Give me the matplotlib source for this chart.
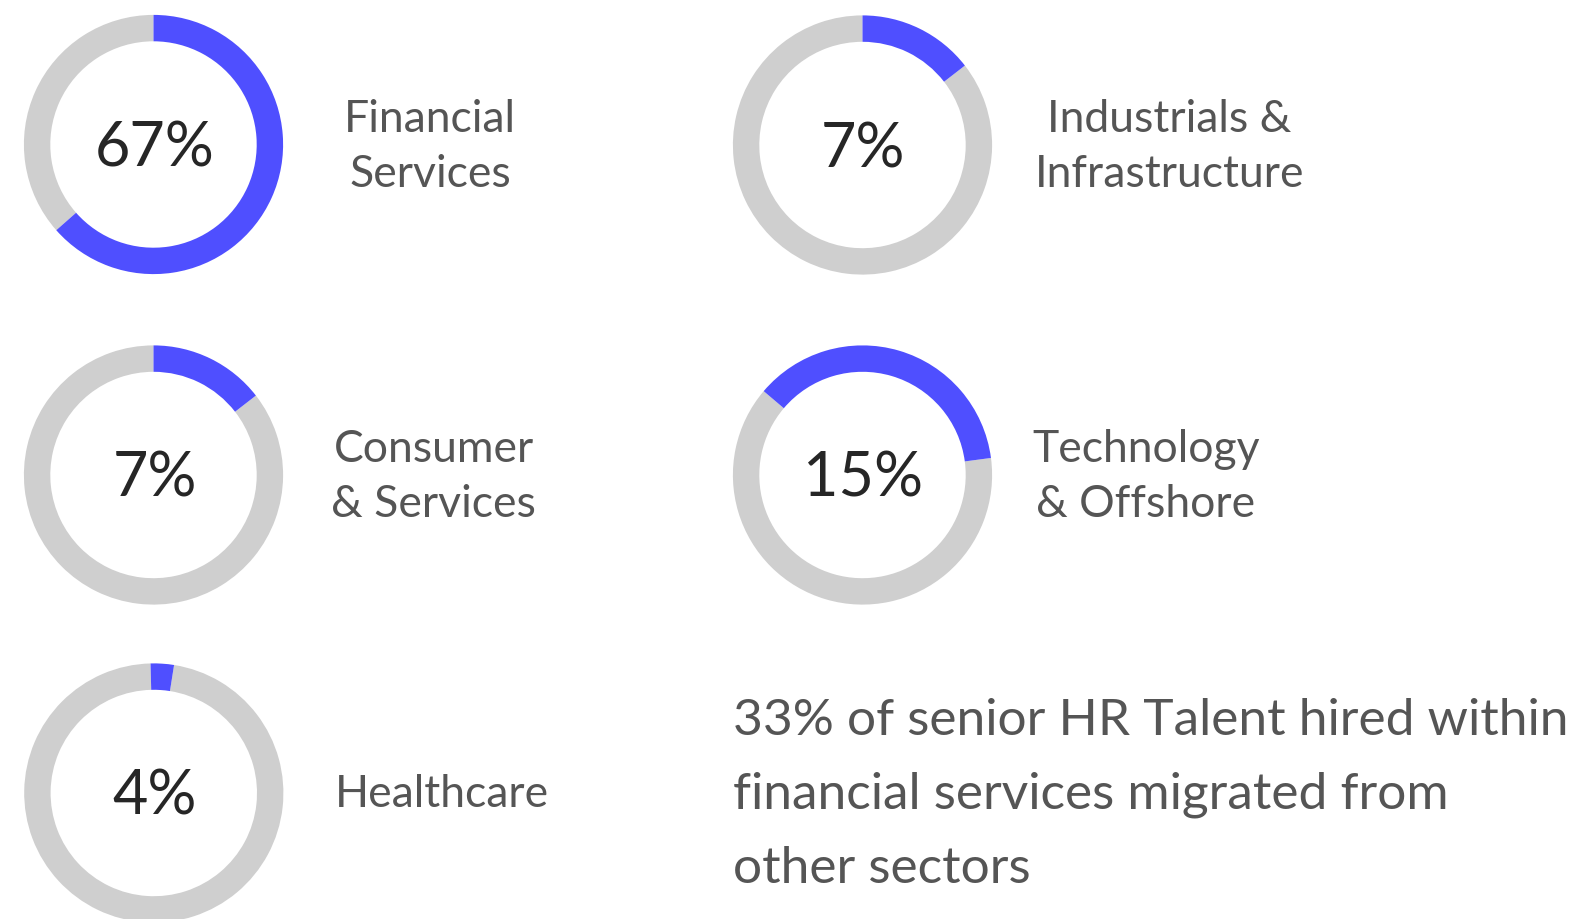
import matplotlib
matplotlib.use("Agg")
import matplotlib.pyplot as plt
from matplotlib.patches import Wedge

# ---- data ----
sectors = ["Financial\nServices", "Industrials &\nInfrastructure", "Consumer\n& Services",
           "Technology\n& Offshore", "Healthcare"]
pct_labels = ["67%", "7%", "7%", "15%", "4%"]
# blue arc extent as drawn (fraction of full turn, clockwise from 12 o'clock)
arc_start = [0.0, 0.0, 0.0, -0.138, -0.004]
arc_end = [0.635, 0.145, 0.145, 0.229, 0.025]
note_lines = ["33% of senior HR Talent hired within",
              "financial services migrated from",
              "other sectors"]

# ---- layout (pixels) ----
W, H = 1582, 920
centers = [(153.5, 145.5), (862.5, 146.0), (153.5, 476.0), (862.5, 476.0), (153.8, 794.0)]
label_x = [430, 1169.5, 433.5, 1146, 442]
label_base = [132, 132, 462, 462, 806.7]
R_OUT, R_W = 129.6, 26.4
BLUE, GREY = "#4f4fff", "#cfcfcf"
FONT = ["Lato", "DejaVu Sans"]

fig = plt.figure(figsize=(W / 100, H / 100), dpi=100)
ax = fig.add_axes([0, 0, 1, 1])
ax.set_xlim(0, W)
ax.set_ylim(H, 0)
ax.axis("off")

for (cx, cy), s, e, pl, lab, lx, lb in zip(centers, arc_start, arc_end, pct_labels,
                                            sectors, label_x, label_base):
    t1 = s * 360 - 90
    t2 = e * 360 - 90
    ax.add_patch(Wedge((cx, cy), R_OUT, t2, t1 + 360, width=R_W, facecolor=GREY,
                       edgecolor="none", antialiased=True))
    ax.add_patch(Wedge((cx, cy), R_OUT, t1, t2, width=R_W, facecolor=BLUE,
                       edgecolor="none", antialiased=True))
    ax.text(cx + 1, cy + 21, pl, family=FONT, fontsize=44, color="#262626",
            ha="center", va="baseline")
    lines = lab.split("\n")
    for i, ln in enumerate(lines):
        ax.text(lx, lb + i * 55, ln, family=FONT, fontsize=32, color="#555555",
                ha="center", va="baseline")

for i, ln in enumerate(note_lines):
    ax.text(733, 735 + i * 74, ln, family=FONT, fontsize=37, color="#555555",
            ha="left", va="baseline")

fig.savefig("out.png", dpi=100, facecolor="white")
